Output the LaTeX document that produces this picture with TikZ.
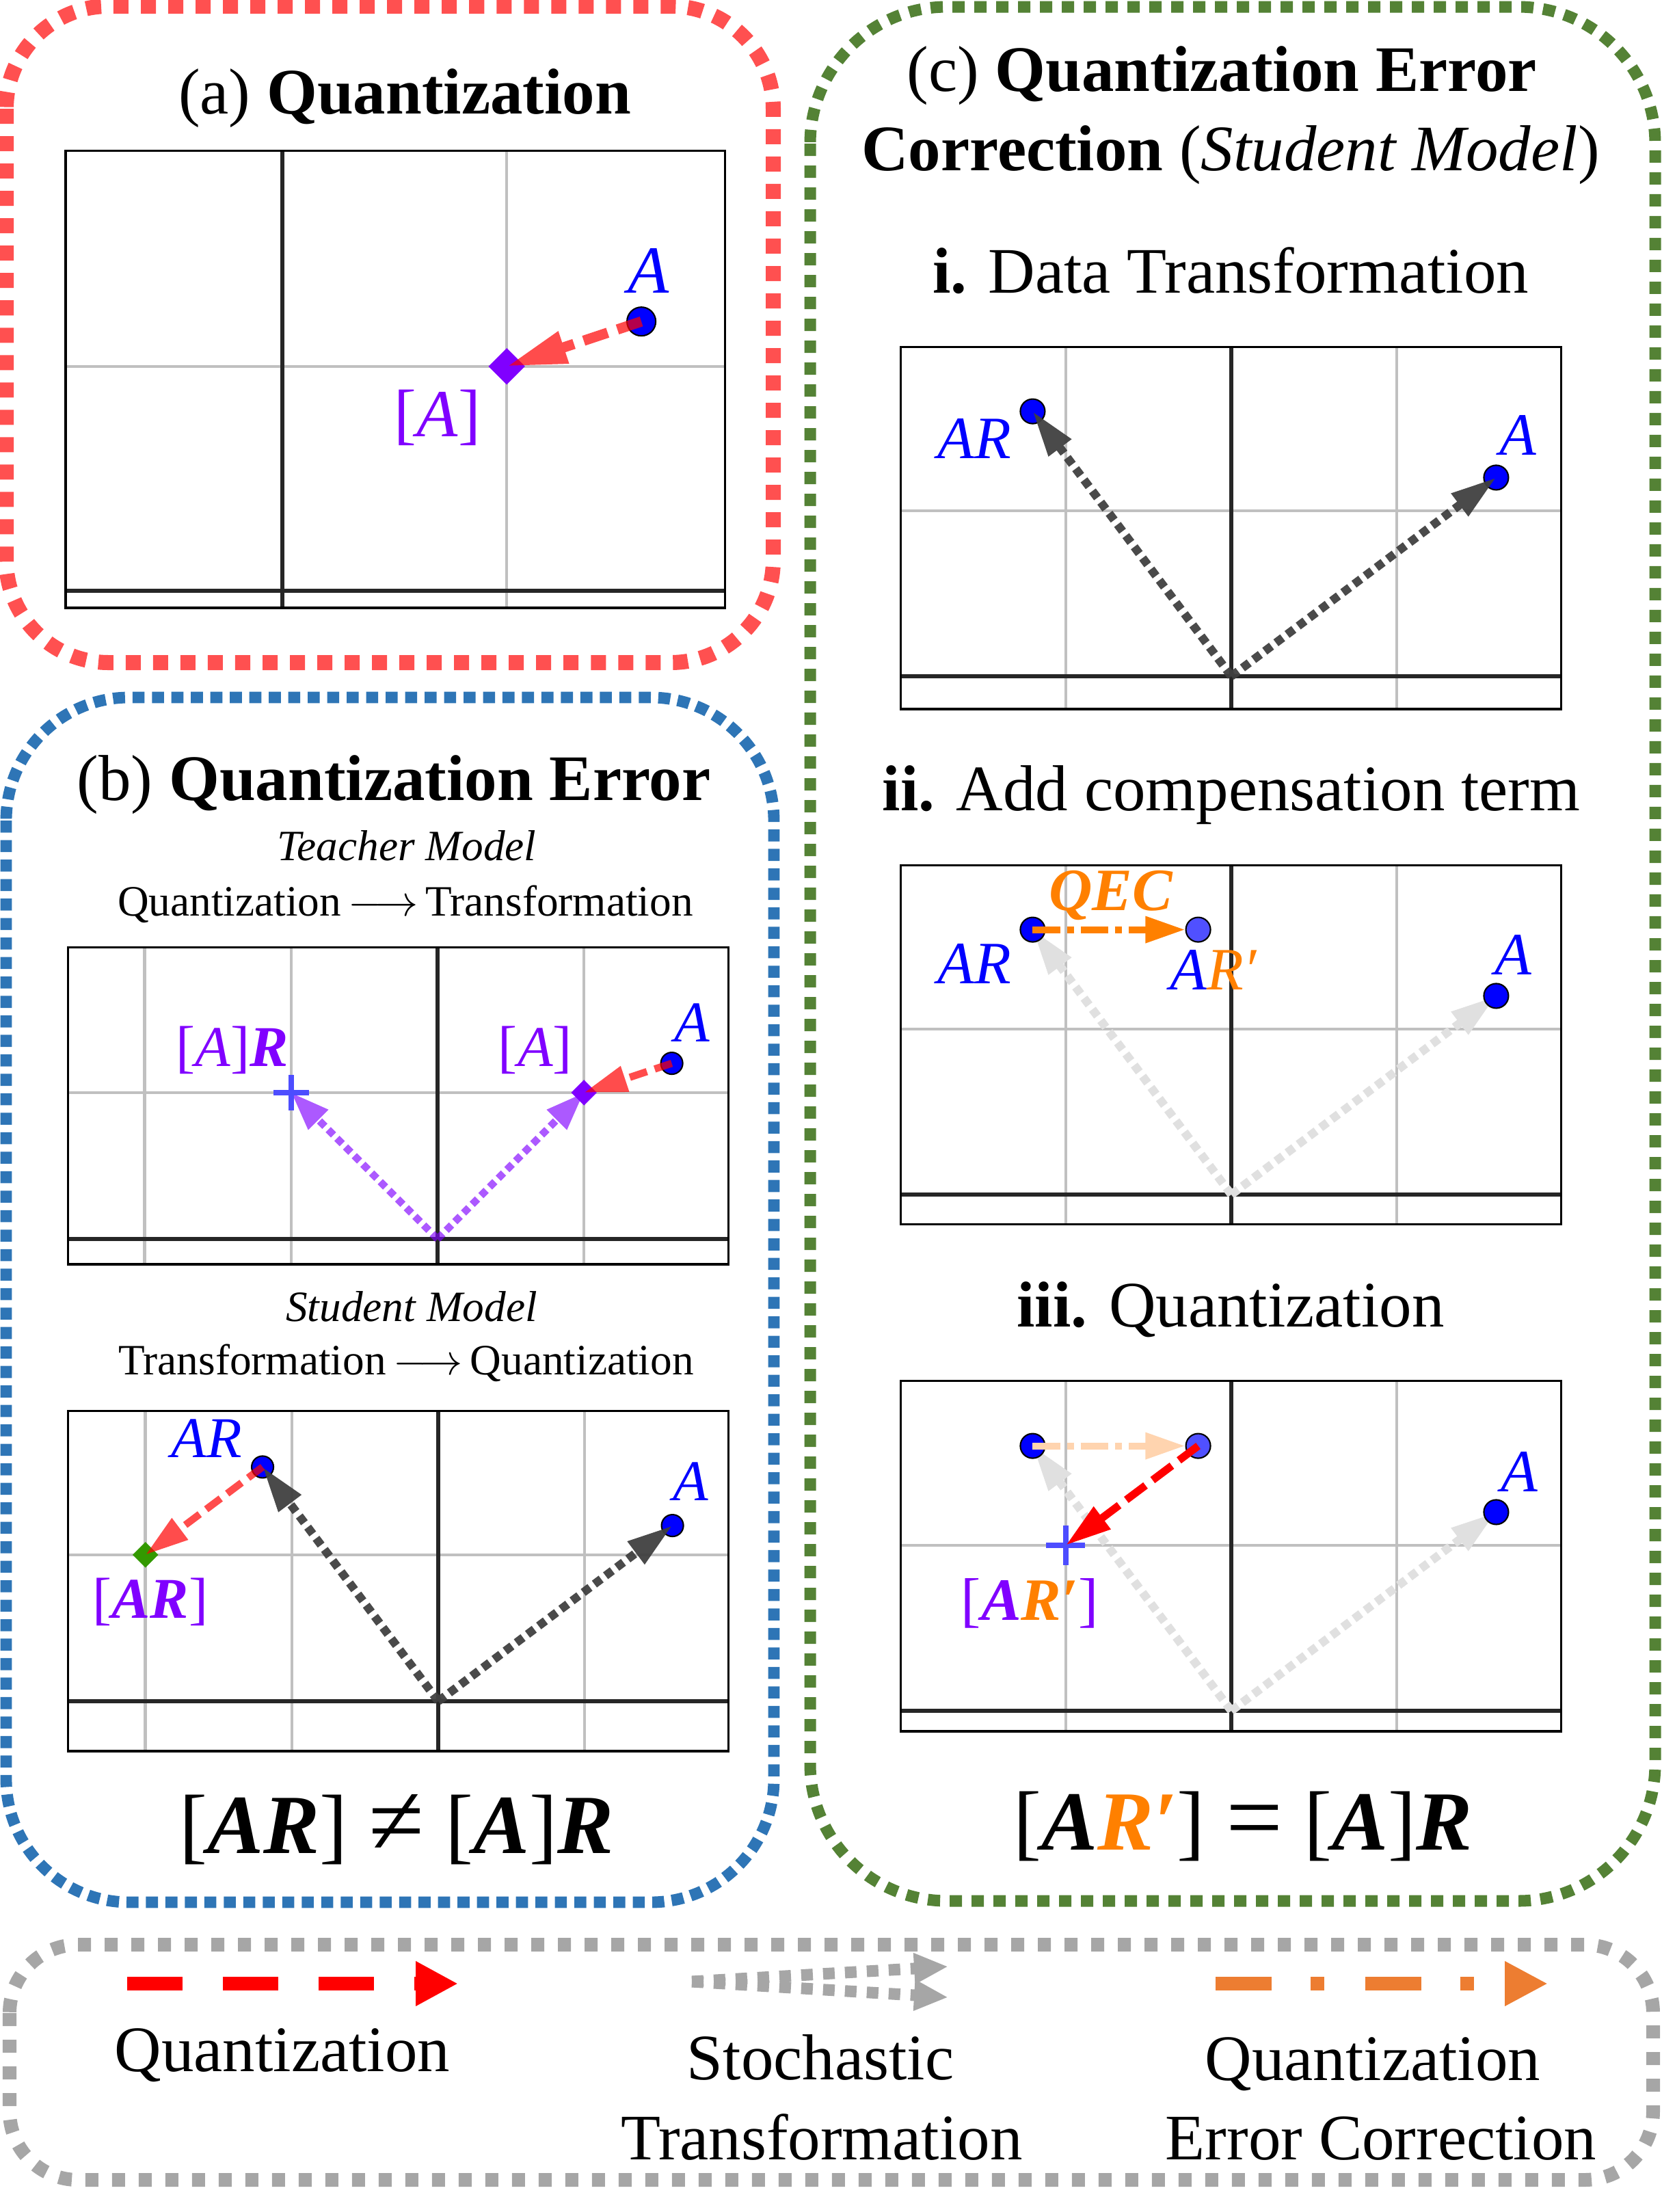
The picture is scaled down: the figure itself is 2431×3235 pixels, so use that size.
\RequirePackage{fix-cm}
\documentclass[tikz,border=0pt]{standalone}
\usepackage{fontspec}
\setmainfont{Liberation Serif}
\usetikzlibrary{arrows.meta,shapes.geometric,shapes.misc}
\pgfdeclarelayer{under}
\pgfsetlayers{under,main}
\definecolor{boxred}{RGB}{255,80,80}
\definecolor{boxblue}{RGB}{46,117,182}
\definecolor{boxgreen}{RGB}{84,130,53}
\definecolor{boxgray}{RGB}{166,166,166}
\definecolor{ptblue}{RGB}{0,0,255}
\definecolor{ptblue2}{RGB}{80,80,255}
\definecolor{lblpurple}{RGB}{128,0,255}
\definecolor{qecorange}{RGB}{255,128,0}
\definecolor{legorange}{RGB}{237,125,49}
\definecolor{gridgray}{RGB}{192,192,192}
\definecolor{axisdark}{RGB}{38,38,38}
\definecolor{stochdark}{RGB}{64,64,64}
\definecolor{stochlight}{RGB}{224,224,224}
\definecolor{qeclight}{RGB}{255,212,175}
\definecolor{diagreen}{RGB}{51,153,0}
\definecolor{crossblue}{RGB}{77,77,255}
\newcommand\setfs[1]{\fontsize{#1}{#1}\selectfont}
\newcommand\bival[1]{\textbf{\textit{#1}}}
\newcommand\bigrel[1]{\raisebox{-0.02em}{\scalebox{1.2}{#1}}}
\tikzset{
  redbox/.style={draw=boxred, line width=6.26pt, dash pattern=on 6.26pt off 5.12pt, rounded corners=1.5cm},
  bluebox/.style={draw=boxblue, line width=4.8pt, dash pattern=on 5pt off 3.1pt, rounded corners=1.8cm},
  greenbox/.style={draw=boxgreen, line width=4.84pt, dash pattern=on 5.12pt off 3.98pt, rounded corners=2cm},
  graybox/.style={draw=boxgray, line width=5.69pt, dash pattern=on 5.4pt off 5.69pt, rounded corners=1cm},
  gridln/.style={draw=gridgray, line width=1.3pt},
  axisln/.style={draw=axisdark, line width=1.5pt},
  frameln/.style={draw=black, line width=0.9pt},
  pt/.style={circle, draw=black, line width=0.6pt, fill=ptblue, inner sep=0pt},
  dia/.style={diamond, inner sep=0pt, aspect=1},
  crs/.style={cross out, draw=crossblue, line width=2.4pt, rotate=45, inner sep=0pt},
  lbl/.style={anchor=base, inner sep=0pt},
  ttl/.style={lbl, font=\setfs{27}},
  seethru/.style={transparency group, opacity=#1},
  quantA/.style={draw=red, line width=4.27pt, dash pattern=on 10.5pt off 4.27pt, -{Triangle[length=25pt,width=13pt]}},
  quantB/.style={draw=red, line width=3pt, dash pattern=on 7.5pt off 3.4pt, -{Triangle[length=18pt,width=10.5pt]}},
  quantC/.style={draw=red, line width=3.2pt, dash pattern=on 10pt off 3.7pt, -{Triangle[length=19pt,width=11pt]}},
  stochD/.style={draw=stochdark, line width=3.5pt, dash pattern=on 3.5pt off 2.3pt, -{Triangle[length=19pt,width=11pt]}},
  stochL/.style={draw=stochlight, line width=3.5pt, dash pattern=on 3.5pt off 2.3pt, -{Triangle[length=19pt,width=11pt]}},
  purp/.style={draw=lblpurple, line width=3.1pt, dash pattern=on 3.1pt off 2pt, -{Triangle[length=16pt,width=11pt]}},
  qec/.style={draw=qecorange, line width=2.85pt, dash pattern=on 11.4pt off 2.85pt on 2.85pt off 2.85pt, -{Triangle[length=16.5pt,width=10.5pt]}},
  qecL/.style={draw=qeclight, line width=2.85pt, dash pattern=on 11.4pt off 2.85pt on 2.85pt off 2.85pt, -{Triangle[length=16.5pt,width=10.5pt]}},
  legQ/.style={draw=red, line width=5.69pt, dash pattern=on 23pt off 16.8pt, -{Triangle[length=17.6pt,width=17.4pt]}},
  legS/.style={draw=boxgray, line width=4.84pt, dash pattern=on 4.84pt off 4.27pt, -{Triangle[length=14.2pt,width=12pt]}},
  legE/.style={draw=legorange, line width=5.69pt, dash pattern=on 23.3pt off 16.2pt on 5.7pt off 17pt, -{Triangle[length=17.9pt,width=17.4pt]}},
}
% xmin xmax ymin ymax {gray vertical lines}
\newcommand\plotframe[5]{%
  \begin{pgfonlayer}{under}
    \foreach \g in {#5} {\draw[gridln] (\g,#3) -- (\g,#4);}
    \draw[gridln] (#1,1) -- (#2,1);
    \draw[axisln] (0,#3) -- (0,#4);
    \draw[axisln] (#1,0) -- (#2,0);
    \draw[frameln] (#1,#3) rectangle (#2,#4);
  \end{pgfonlayer}}
\begin{document}
\begin{tikzpicture}[x=0.01cm,y=-0.01cm]
\useasboundingbox (0,0) rectangle (2431,3235);

% ---------------- (a) ----------------
\draw[redbox] (9,9) rectangle (1131,969);
\node[ttl] (ta) at (592,166) {(a) \textbf{Quantization}};
\begin{scope}[shift={(413,864)}, x=3.28cm, y=3.28cm]
  \plotframe{-0.966}{1.973}{-0.076}{1.96}{1}
  \node[pt, minimum size=0.42cm] (aA) at (1.6,1.2) {};
  \node[dia, fill=lblpurple, minimum size=0.54cm] (aQ) at (1,1) {};
\end{scope}
\begin{scope}[seethru=0.7]
  \draw[quantA] (aA.center) -- (aQ.center);
\end{scope}
\node[lbl, font=\setfs{28}, text=ptblue] (aAl) at (949,428) {\textit{A}};
\node[lbl, font=\setfs{28}, text=lblpurple] (aQl) at (640,638) {[\textit{A}]};

% ---------------- (b) ----------------
\draw[bluebox] (9,1020) rectangle (1132,2782);
\node[ttl] (tb) at (576,1170) {(b) \textbf{Quantization Error}};
\node[lbl, font=\setfs{18}] (tteach) at (595,1258) {\textit{Teacher Model}};
\node[lbl, font=\setfs{18}] (tqt) at (593,1339) {Quantization\,$\longrightarrow$\,Transformation};
\begin{scope}[shift={(640,1812)}, x=2.14cm, y=2.14cm]
  \plotframe{-2.523}{1.986}{-0.173}{1.991}{-2,-1,1}
  \coordinate (b1O) at (0,0);
  \node[pt, minimum size=0.32cm] (b1A) at (1.6,1.2) {};
  \node[dia, fill=lblpurple, minimum size=0.38cm] (b1Q) at (1,1) {};
  \node[crs, minimum size=0.28cm] (b1X) at (-1,1) {};
\end{scope}
\begin{pgfonlayer}{under}
  \begin{scope}[seethru=0.65]
    \draw[purp] (b1O) -- (b1Q.center);
    \draw[purp] (b1O) -- (b1X.center);
  \end{scope}
\end{pgfonlayer}
\begin{scope}[seethru=0.7]
  \draw[quantB] (b1A.center) -- (b1Q.center);
\end{scope}
\node[lbl, font=\setfs{24}, text=lblpurple] (b1XQl) at (340,1559) {[\textit{A}]\bival{R}};
\node[lbl, font=\setfs{24}, text=lblpurple] (b1Ql) at (783,1559) {[\textit{A}]};
\node[lbl, font=\setfs{24}, text=ptblue] (b1Al) at (1012,1523) {\textit{A}};

\node[lbl, font=\setfs{18}] (tstud) at (602,1932) {\textit{Student Model}};
\node[lbl, font=\setfs{18}] (ttq) at (594,2010) {Transformation\,$\longrightarrow$\,Quantization};
\begin{scope}[shift={(641,2488)}, x=2.14cm, y=2.14cm]
  \plotframe{-2.528}{1.981}{-0.341}{1.981}{-2,-1,1}
  \coordinate (b2O) at (0,0);
  \node[pt, minimum size=0.32cm] (b2A) at (1.6,1.2) {};
  \node[pt, minimum size=0.32cm] (b2AR) at (-1.2,1.6) {};
  \node[dia, fill=diagreen, minimum size=0.38cm] (b2D) at (-2,1) {};
\end{scope}
\begin{scope}[seethru=0.95]
  \draw[stochD] (b2O) -- (b2A.center);
\end{scope}
\begin{scope}[seethru=0.95]
  \draw[stochD] (b2O) -- (b2AR.center);
\end{scope}
\begin{scope}[seethru=0.7]
  \draw[quantB] (b2AR.center) -- (b2D.center);
\end{scope}
\node[lbl, font=\setfs{24}, text=ptblue] (b2ARl) at (302,2131) {\textit{AR}};
\node[lbl, font=\setfs{24}, text=ptblue] (b2Al) at (1010,2194) {\textit{A}};
\node[lbl, font=\setfs{24}, text=lblpurple] (b2Dl) at (220,2366) {[\bival{AR}]};
\node[lbl, font=\setfs{35}] (eqb) at (580,2710) {[\bival{AR}] \bigrel{≠} [\bival{A}]\bival{R}};

% ---------------- (c) ----------------
\draw[greenbox] (1185,10) rectangle (2421,2780);
\node[ttl] (tc1) at (1787,133) {(c) \textbf{Quantization Error}};
\node[ttl] (tc2) at (1800,249) {\textbf{Correction} (\textit{Student Model})};
\node[ttl] (tci) at (1800,428) {\textbf{i.} Data Transformation};
\begin{scope}[shift={(1801,989)}, x=2.42cm, y=2.42cm]
  \plotframe{-1.996}{1.992}{-0.198}{1.988}{-1,1}
  \coordinate (c1O) at (0,0);
  \node[pt, minimum size=0.36cm] (c1A) at (1.6,1.2) {};
  \node[pt, minimum size=0.36cm] (c1AR) at (-1.2,1.6) {};
\end{scope}
\begin{scope}[seethru=0.95]
  \draw[stochD] (c1O) -- (c1A.center);
\end{scope}
\begin{scope}[seethru=0.95]
  \draw[stochD] (c1O) -- (c1AR.center);
\end{scope}
\node[lbl, font=\setfs{25}, text=ptblue] (c1ARl) at (1425,670) {\textit{AR}};
\node[lbl, font=\setfs{25}, text=ptblue] (c1Al) at (2220,665) {\textit{A}};

\node[ttl] (tcii) at (1801,1185) {\textbf{ii.} Add compensation term};
\begin{scope}[shift={(1801,1747)}, x=2.42cm, y=2.42cm]
  \plotframe{-1.996}{1.992}{-0.178}{1.988}{-1,1}
  \coordinate (c2O) at (0,0);
  \node[pt, minimum size=0.36cm] (c2A) at (1.6,1.2) {};
  \node[pt, minimum size=0.36cm] (c2AR) at (-1.2,1.6) {};
  \node[pt, fill=ptblue2, minimum size=0.36cm] (c2ARp) at (-0.2,1.6) {};
\end{scope}
\begin{pgfonlayer}{under}
  \draw[stochL] (c2O) -- (c2A.center);
  \draw[stochL] (c2O) -- (c2AR.center);
\end{pgfonlayer}
\draw[qec] (c2AR.center) -- (c2ARp);
\node[lbl, font=\setfs{25}, text=qecorange] (c2Ql) at (1625,1331) {\bival{QEC}};
\node[lbl, font=\setfs{25}, text=ptblue] (c2ARl) at (1425,1438) {\textit{AR}};
\node[lbl, font=\setfs{25}] (c2ARpl) at (1775,1447) {\textcolor{ptblue}{\textit{A}}\textcolor{qecorange}{\textit{R′}}};
\node[lbl, font=\setfs{25}, text=ptblue] (c2Al) at (2213,1425) {\textit{A}};

\node[ttl] (tciii) at (1800,1940) {\textbf{iii.} Quantization};
\begin{scope}[shift={(1801,2502)}, x=2.42cm, y=2.42cm]
  \plotframe{-1.996}{1.992}{-0.124}{1.992}{-1,1}
  \coordinate (c3O) at (0,0);
  \node[pt, minimum size=0.36cm] (c3A) at (1.6,1.2) {};
  \node[pt, minimum size=0.36cm] (c3AR) at (-1.2,1.6) {};
  \node[pt, fill=ptblue2, minimum size=0.36cm] (c3ARp) at (-0.2,1.6) {};
  \node[crs, minimum size=0.32cm] (c3X) at (-1,1) {};
\end{scope}
\begin{pgfonlayer}{under}
  \draw[stochL] (c3O) -- (c3A.center);
  \draw[stochL] (c3O) -- (c3AR.center);
\end{pgfonlayer}
\draw[qecL] (c3AR.center) -- (c3ARp);
\draw[quantC] (c3ARp.center) -- (c3X.center);
\node[lbl, font=\setfs{25}, text=ptblue] (c3Al) at (2222,2181) {\textit{A}};
\node[lbl, font=\setfs{25}] (c3Ql) at (1506,2369) {\textcolor{lblpurple}{[\bival{A}}\textcolor{qecorange}{\bival{R′}}\textcolor{lblpurple}{]}};
\node[lbl, font=\setfs{35}] (eqc) at (1818,2705) {[\bival{A}\textcolor{qecorange}{\bival{R′}}] \bigrel{=} [\bival{A}]\bival{R}};

% ---------------- legend ----------------
\draw[graybox] (14,2844) rectangle (2418,3188);
\coordinate (lq1) at (186,2901);
\coordinate (lq2) at (670,2901);
\draw[legQ] (lq1) -- (lq2);
\coordinate (ls0) at (1012,2898);
\coordinate (ls1) at (1387,2876);
\coordinate (ls2) at (1387,2921);
\draw[legS] (ls0) -- (ls1);
\draw[legS] (ls0) -- (ls2);
\coordinate (le1) at (1778,2901);
\coordinate (le2) at (2264,2901);
\draw[legE] (le1) -- (le2);
\node[lbl, font=\setfs{27}] (lgq) at (413,3029) {Quantization};
\node[lbl, font=\setfs{27}] (lgs1) at (1200,3041) {Stochastic};
\node[lbl, font=\setfs{27}] (lgs2) at (1202,3158) {Transformation};
\node[lbl, font=\setfs{27}] (lge1) at (2008,3042) {Quantization};
\node[lbl, font=\setfs{27}] (lge2) at (2020,3158) {Error Correction};
\end{tikzpicture}
\end{document}
